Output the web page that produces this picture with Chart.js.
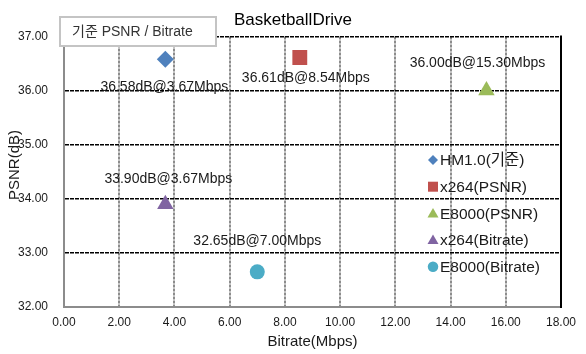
<!DOCTYPE html>
<html>
<head>
<meta charset="utf-8">
<script src="https://cdn.jsdelivr.net/npm/chart.js@4.4.0/dist/chart.umd.min.js"></script>
<style>
  body { margin: 0; background: #fff; }
</style>
</head>
<body>
<canvas id="chart" width="586" height="354"></canvas>
<script>
const chartTitle = "BasketballDrive";
const boxTitle = "기준 PSNR / Bitrate";
const xTitle = "Bitrate(Mbps)";
const yTitle = "PSNR(dB)";
const seriesNames = ["HM1.0(기준)", "x264(PSNR)", "E8000(PSNR)", "x264(Bitrate)", "E8000(Bitrate)"];
const bitrates = [3.67, 8.54, 15.3, 3.67, 7.0];
const psnrValues = [36.58, 36.61, 36.0, 33.9, 32.65];
const xTickValues = [0, 2, 4, 6, 8, 10, 12, 14, 16, 18];
const yTickValues = [32, 33, 34, 35, 36, 37];

const colors = ["#4f81bd", "#c0504d", "#9bbb59", "#8064a2", "#4bacc6"];
const shapes = ["rectRot", "rect", "triangle", "triangle", "circle"];
const radii = [8.5, 10.5, 9.5, 9.5, 7.5];
// where each value label sits relative to its point (px)
const labelOffsets = [[-1, 28], [6, 21], [-9, -27], [3, -25], [0, -31]];

const fontFamily = '"Liberation Sans", Arial, "Noto Sans CJK KR", sans-serif';
Chart.defaults.font.family = fontFamily;
Chart.defaults.color = "#1a1a1a";

function drawMarker(ctx, shape, x, y, s) {
  ctx.beginPath();
  if (shape === "rectRot") {
    ctx.moveTo(x - s, y);
    ctx.lineTo(x, y - s);
    ctx.lineTo(x + s, y);
    ctx.lineTo(x, y + s);
  } else if (shape === "rect") {
    ctx.rect(x - s, y - s, 2 * s, 2 * s);
  } else if (shape === "triangle") {
    ctx.moveTo(x, y - s * 1.1);
    ctx.lineTo(x + s * 1.1, y + s * 0.8);
    ctx.lineTo(x - s * 1.1, y + s * 0.8);
  } else {
    ctx.arc(x, y, s * 1.05, 0, Math.PI * 2);
  }
  ctx.closePath();
  ctx.fill();
}

const decorPlugin = {
  id: "decor",
  beforeDatasetsDraw(chart) {
    const { ctx, chartArea: a } = chart;
    ctx.save();
    ctx.strokeStyle = "#000";
    ctx.lineWidth = 2;
    ctx.beginPath();
    ctx.moveTo(a.right, a.top - 1);
    ctx.lineTo(a.right, a.bottom + 1);
    ctx.stroke();
    ctx.restore();
  },
  afterDatasetsDraw(chart) {
    const { ctx, scales } = chart;
    ctx.save();

    // value labels
    ctx.font = "14px " + fontFamily;
    ctx.fillStyle = "#1a1a1a";
    ctx.textAlign = "center";
    ctx.textBaseline = "middle";
    seriesNames.forEach((name, i) => {
      const px = scales.x.getPixelForValue(bitrates[i]);
      const py = scales.y.getPixelForValue(psnrValues[i]);
      const text = psnrValues[i].toFixed(2) + "dB@" + bitrates[i].toFixed(2) + "Mbps";
      ctx.fillText(text, px + labelOffsets[i][0], py + labelOffsets[i][1]);
    });

    // legend inside the plot
    ctx.textAlign = "left";
    ctx.font = "15.5px " + fontFamily;
    seriesNames.forEach((name, i) => {
      const y = 160 + i * 26.7;
      ctx.fillStyle = colors[i];
      drawMarker(ctx, shapes[i], 433, y, 5);
      ctx.fillStyle = "#1a1a1a";
      ctx.fillText(name, 440, y + 1);
    });

    // boxed caption
    ctx.font = "14px " + fontFamily;
    ctx.fillStyle = "#fff";
    ctx.fillRect(60, 17, 156, 29);
    ctx.strokeStyle = "#c4c4c4";
    ctx.lineWidth = 2;
    ctx.strokeRect(60, 17, 156, 29);
    ctx.fillStyle = "#333";
    ctx.fillText(boxTitle, 72, 32);

    // y axis title
    ctx.translate(15, 165);
    ctx.rotate(-Math.PI / 2);
    ctx.textAlign = "center";
    ctx.font = "15px " + fontFamily;
    ctx.fillStyle = "#1a1a1a";
    ctx.fillText(yTitle, 0, 0);
    ctx.restore();
  }
};

const datasets = seriesNames.map((name, i) => ({
  label: name,
  data: [{ x: bitrates[i], y: psnrValues[i] }],
  pointStyle: shapes[i],
  pointRadius: radii[i],
  pointHoverRadius: radii[i],
  backgroundColor: colors[i],
  borderColor: colors[i],
  borderWidth: 0,
}));

new Chart(document.getElementById("chart"), {
  type: "scatter",
  data: { datasets: datasets },
  options: {
    responsive: false,
    animation: false,
    events: [],
    layout: { padding: 0 },
    plugins: {
      legend: { display: false },
      tooltip: { enabled: false },
      title: {
        display: true,
        text: chartTitle,
        color: "#000",
        font: { size: 17, weight: "normal" },
        padding: { top: 10, bottom: 6 },
      },
    },
    scales: {
      x: {
        type: "linear",
        min: xTickValues[0],
        max: xTickValues[xTickValues.length - 1],
        afterBuildTicks: (s) => { s.ticks = xTickValues.map((v) => ({ value: v })); },
        afterFit: (s) => { s.height = 47; s.paddingRight = 25; },
        ticks: {
          font: { size: 12 },
          padding: 8,
          maxRotation: 0,
          callback: (v) => Number(v).toFixed(2),
        },
        grid: { color: "#8c8c8c", lineWidth: 2, drawTicks: false },
        border: { display: true, color: "#8c8c8c", width: 2, dash: [3, 1] },
        title: {
          display: true,
          text: xTitle,
          font: { size: 15 },
          padding: { top: 0, bottom: 3 },
        },
      },
      y: {
        type: "linear",
        min: yTickValues[0],
        max: yTickValues[yTickValues.length - 1],
        afterBuildTicks: (s) => { s.ticks = yTickValues.map((v) => ({ value: v })); },
        afterFit: (s) => { s.width = 64; },
        ticks: {
          font: { size: 12 },
          padding: 16,
          callback: (v) => Number(v).toFixed(2),
        },
        grid: { color: "#000", lineWidth: 1.5, drawTicks: false },
        border: { display: true, color: "#8c8c8c", width: 2, dash: [4, 1] },
      },
    },
  },
  plugins: [decorPlugin],
});
</script>
</body>
</html>
